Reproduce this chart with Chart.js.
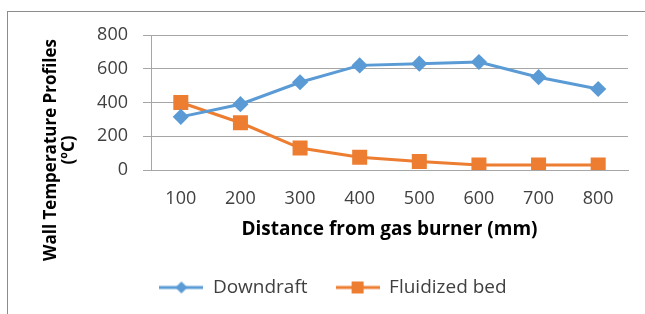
<!DOCTYPE html>
<html>
<head>
<meta charset="utf-8">
<script src="https://cdn.jsdelivr.net/npm/chart.js@4"></script>
<style>
  html, body { margin: 0; padding: 0; background: #fff; }
  #wrap { position: absolute; left: 0; top: 0; width: 645px; height: 314px; }
  #frame { position: absolute; left: 7px; top: 11px; width: 645px; height: 314px;
           border-top: 1px solid #8c8c8c; border-left: 1px solid #8c8c8c; pointer-events: none; }
</style>
</head>
<body>
<div id="wrap"><canvas id="graph" width="645" height="314"></canvas></div>
<div id="frame"></div>
<script>
const distances = ["100", "200", "300", "400", "500", "600", "700", "800"]
const downdraft = [315, 390, 520, 620, 630, 640, 550, 480]
const fluidized = [400, 280, 130, 75, 50, 30, 30, 30]
const yTicks = [0, 200, 400, 600, 800]

const blue = '#5B9BD5'
const orange = '#ED7D31'
const textColor = '#404040'
const gridColor = '#A6A6A6'

Chart.defaults.font.family = "'Open Sans', sans-serif"
Chart.defaults.color = textColor

// small picture of line + marker for the legend, like the spreadsheet one
function legendIcon(color, shape) {
    const c = document.createElement('canvas')
    c.width = 44
    c.height = 16
    const g = c.getContext('2d')
    g.strokeStyle = color
    g.lineWidth = 3
    g.beginPath()
    g.moveTo(0, 8)
    g.lineTo(44, 8)
    g.stroke()
    g.fillStyle = color
    g.beginPath()
    if (shape === 'diamond') {
        g.moveTo(22, 2); g.lineTo(28, 8); g.lineTo(22, 14); g.lineTo(16, 8)
    } else {
        g.rect(16, 2, 12, 12)
    }
    g.fill()
    return c
}
const icons = [legendIcon(blue, 'diamond'), legendIcon(orange, 'square')]

// y title sits lower than the plot centre in the reference
const yTitle = {
    id: 'yTitle',
    afterDraw(chart) {
        const ctx = chart.ctx
        ctx.save()
        ctx.fillStyle = '#000'
        ctx.font = "bold 17px 'Open Sans', sans-serif"
        ctx.textAlign = 'center'
        ctx.textBaseline = 'middle'
        ctx.translate(51, 150)
        ctx.rotate(-Math.PI / 2)
        ctx.fillText('Wall Temperature Profiles', 0, 0)
        ctx.fillText('(ºC)', 0, 18.5)
        ctx.restore()
    }
}

const data = {
    labels: distances,
    datasets: [
        {
            label: "Downdraft",
            data: downdraft,
            borderColor: blue,
            backgroundColor: blue,
            borderWidth: 3,
            pointStyle: 'rectRot',
            pointRadius: 6,
            tension: 0,
        },
        {
            label: "Fluidized bed",
            data: fluidized,
            borderColor: orange,
            backgroundColor: orange,
            borderWidth: 3,
            pointStyle: 'rect',
            pointRadius: 8.5,
            tension: 0,
        },
    ],
}

const config = {
    type: 'line',
    data: data,
    plugins: [yTitle],
    options: {
        responsive: false,
        animation: false,
        layout: { padding: { left: 38, right: 17, top: 35, bottom: 7 } },
        plugins: {
            tooltip: { enabled: false },
            legend: {
                position: 'bottom',
                labels: {
                    usePointStyle: true,
                    pointStyleWidth: 44,
                    padding: 28,
                    color: textColor,
                    font: { size: 19 },
                    generateLabels(chart) {
                        const items = Chart.defaults.plugins.legend.labels.generateLabels(chart)
                        items.forEach(it => { it.pointStyle = icons[it.datasetIndex] })
                        return items
                    }
                }
            }
        },
        scales: {
            x: {
                offset: true,
                grid: { display: false, drawTicks: false },
                border: { display: true, color: gridColor },
                ticks: { padding: 18, color: textColor, font: { size: 18 } },
                title: {
                    display: true,
                    text: 'Distance from gas burner (mm)',
                    color: '#000',
                    font: { size: 19, weight: 'bold' },
                    padding: { top: 0, bottom: 9 }
                },
                afterFit(scale) { scale.height = 80 }
            },
            y: {
                min: 0,
                max: 800,
                afterBuildTicks(scale) { scale.ticks = yTicks.map(v => ({ value: v })) },
                grid: { color: gridColor, tickLength: 8 },
                border: { display: true, color: gridColor },
                ticks: { padding: 15, color: textColor, font: { size: 18 } },
                afterFit(scale) { scale.width = 113 }
            }
        }
    }
}

let myChart = new Chart(
    document.getElementById("graph").getContext("2d"),
    config
);
</script>
</body>
</html>
